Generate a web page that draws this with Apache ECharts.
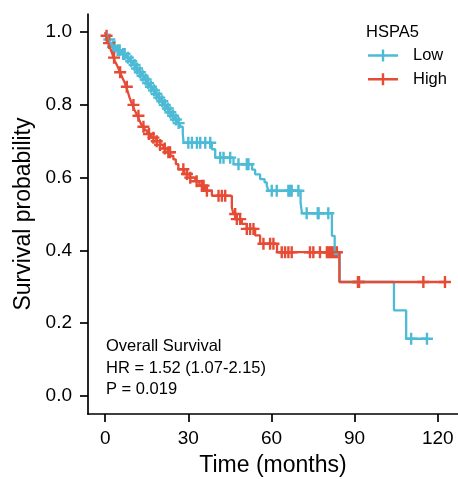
<!DOCTYPE html>
<html><head><meta charset="utf-8">
<script src="https://cdn.jsdelivr.net/npm/echarts@6/dist/echarts.min.js"></script>
<style>html,body{margin:0;padding:0;background:#fff}#c{width:458px;height:479px}</style>
</head><body><div id="c"></div>
<script>
// ---- data ----
const xTicks = [0, 30, 60, 90, 120];
const yTicks = [0, 0.2, 0.4, 0.6, 0.8, 1.0];
const groupNames = ['Low', 'High'];
const legendTitle = 'HSPA5';
const annotation = ['Overall Survival', 'HR = 1.52 (1.07-2.15)', 'P = 0.019'];

// Low group: event times and survival after each step
const lowT = [0.5,1.0,1.6,2.5,4.0,5.8,7.5,8.8,10.0,11.0,12.0,13.0,14.0,15.0,16.0,17.0,18.0,19.0,20.0,21.0,22.0,23.0,24.0,25.0,26.0,27.0,28.0,28.3,38.5,39.7,46.3,53.0,54.1,55.9,57.5,58.3,58.9,70.5,71.0,81.8,82.8,84.6,104.2,108.6];
const lowS = [0.99,0.98,0.97,0.96,0.95,0.94,0.93,0.92,0.91,0.90,0.89,0.88,0.87,0.86,0.85,0.84,0.83,0.82,0.81,0.80,0.79,0.78,0.77,0.76,0.75,0.74,0.72,0.696,0.678,0.655,0.637,0.622,0.609,0.596,0.587,0.578,0.564,0.532,0.502,0.44,0.39,0.313,0.235,0.157];
const lowCensor = [1.5,2.8,3.4,4.5,5.2,6.5,7.0,8.2,9.4,10.6,11.5,12.5,13.5,14.6,15.5,16.5,17.6,18.5,19.5,20.6,21.5,22.6,23.5,24.5,25.5,26.5,30.0,31.3,33.1,34.3,36.1,37.9,41.5,42.7,45.1,48.1,51.1,51.7,60.1,61.9,66.1,66.7,67.3,69.7,72.7,76.7,77.0,80.5,110.4,116.1];

// High group
const highT = [0.3,0.7,1.1,1.6,2.1,2.6,3.0,3.5,4.2,4.8,5.3,5.9,6.5,7.1,7.6,8.0,8.4,8.8,9.3,9.8,10.3,11.0,11.6,12.2,12.8,13.4,14.2,15.2,16.5,18.5,19.8,21.0,22.5,23.5,24.6,25.5,26.4,28.5,30.5,32.5,34.0,36.0,38.5,45.7,46.3,47.5,49.3,51.1,54.1,55.9,62.0,84.5];
const highS = [0.99,0.98,0.97,0.96,0.95,0.94,0.93,0.92,0.91,0.90,0.89,0.88,0.87,0.86,0.85,0.84,0.83,0.82,0.81,0.80,0.79,0.78,0.77,0.76,0.75,0.74,0.73,0.72,0.71,0.70,0.69,0.68,0.67,0.66,0.65,0.637,0.623,0.61,0.60,0.59,0.578,0.564,0.55,0.518,0.5,0.486,0.473,0.459,0.441,0.418,0.395,0.313];
const highCensor = [0.5,1.4,3.2,5.4,7.8,10.2,12.0,13.8,15.8,17.4,18.6,19.8,21.5,22.8,23.4,28.2,29.5,30.7,33.0,34.9,35.5,36.7,40.9,42.1,43.3,46.9,47.5,48.7,51.1,52.3,53.5,57.1,59.5,60.7,63.7,64.9,66.1,67.3,73.9,75.1,77.5,80.0,80.6,81.2,81.8,82.4,83.0,83.6,91.2,91.6,114.8,122.6];

// ---- helpers ----
function survAt(T, S, t) { let s = 1; for (let i = 0; i < T.length; i++) { if (T[i] <= t) s = S[i]; } return s; }
function curve(T, S, C) {
  const d = [[0, 1]];
  T.forEach((t, i) => d.push([t, S[i]]));
  const end = Math.max(T[T.length - 1], C[C.length - 1]);
  d.push([end, S[S.length - 1]]);
  return d;
}
function censors(T, S, C) { return C.map(t => [t, survAt(T, S, t)]); }

const COL = { Low: '#4DBBD5', High: '#E64B35' };
const FONT = 'Liberation Sans, Arial, sans-serif';
const plus = 'path://M4.8,0h2.4v4.8h4.8v2.4h-4.8v4.8h-2.4v-4.8h-4.8v-2.4h4.8z';
const legendIcon = 'path://M0,4.8h30v2.4h-30z M13.8,0h2.4v12h-2.4z';

const chart = echarts.init(document.getElementById('c'), null, { renderer: 'canvas' });
const sets = { Low: [lowT, lowS, lowCensor], High: [highT, highS, highCensor] };
const series = [];
groupNames.forEach(g => {
  const [T, S, C] = sets[g];
  series.push({ name: g, type: 'line', step: 'end', data: curve(T, S, C), showSymbol: false, symbol: 'none',
    lineStyle: { color: COL[g], width: 2.3 }, itemStyle: { color: COL[g] }, animation: false, silent: true });
  series.push({ name: g, type: 'scatter', data: censors(T, S, C), symbol: plus, symbolSize: 12,
    itemStyle: { color: COL[g], opacity: 1 }, animation: false, silent: true });
});

chart.setOption({
  backgroundColor: '#fff',
  animation: false,
  textStyle: { fontFamily: FONT },
  grid: { left: 88, right: 0, top: 14, bottom: 65, containLabel: false, outerBoundsMode: 'none' },
  title: { text: legendTitle, left: 366, top: 24, padding: 0,
    textStyle: { fontSize: 16.5, fontWeight: 'normal', color: '#000', fontFamily: FONT } },
  legend: {
    orient: 'vertical', left: 368, top: 47, padding: 0, itemWidth: 30, itemHeight: 12, itemGap: 6.7,
    icon: legendIcon, data: groupNames,
    textStyle: { fontSize: 16.5, color: '#000', fontFamily: FONT, padding: [0, 0, 0, 10] }
  },
  xAxis: {
    type: 'value', min: -6.2, max: 127.3,
    name: 'Time (months)', nameLocation: 'middle', nameGap: 40.5,
    nameTextStyle: { fontSize: 23, color: '#000', fontFamily: FONT },
    axisLine: { show: true, onZero: false, lineStyle: { color: '#000', width: 1.7 } },
    axisTick: { show: true, length: 8, lineStyle: { color: '#000', width: 1.7 }, customValues: xTicks },
    axisLabel: { fontSize: 19, color: '#000', margin: 15.5, customValues: xTicks, fontFamily: FONT },
    splitLine: { show: false }
  },
  yAxis: {
    type: 'value', min: -0.05, max: 1.05,
    name: 'Survival probability', nameLocation: 'middle', nameGap: 52,
    nameTextStyle: { fontSize: 23, color: '#000', fontFamily: FONT },
    axisLine: { show: true, onZero: false, lineStyle: { color: '#000', width: 1.7 } },
    axisTick: { show: true, length: 8, lineStyle: { color: '#000', width: 1.7 }, customValues: yTicks },
    axisLabel: { fontSize: 19, color: '#000', margin: 16, customValues: yTicks, fontFamily: FONT,
      formatter: v => v.toFixed(1) },
    splitLine: { show: false }
  },
  graphic: annotation.map((t, i) => ({
    type: 'text', left: 106, top: 338 + i * 21.5,
    style: { text: t, fontSize: 16.5, fill: '#000', fontFamily: FONT }
  })),
  series: series
});
</script></body></html>
